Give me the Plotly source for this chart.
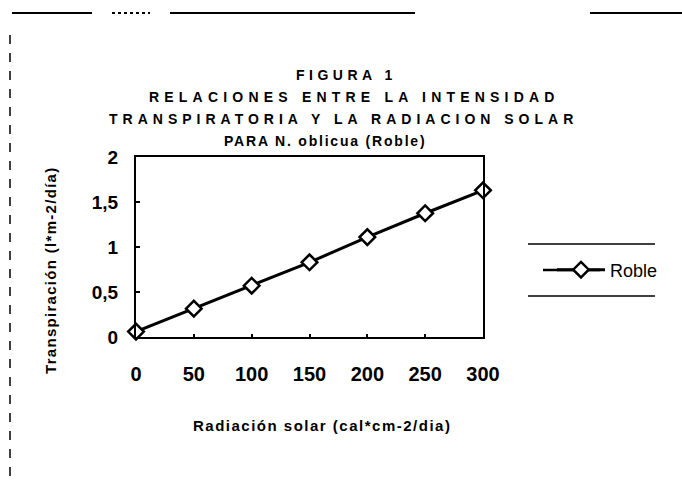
import plotly.graph_objects as go

radiacion = [0, 50, 100, 150, 200, 250, 300]
transpiracion = [0.06, 0.315, 0.57, 0.83, 1.11, 1.375, 1.63]
serie = "Roble"
x_ticks = [0, 50, 100, 150, 200, 250, 300]
y_ticks = [0, 0.5, 1, 1.5, 2]
y_tick_labels = ["0", "0,5", "1", "1,5", "2"]
title_lines = [
    "FIGURA 1",
    "RELACIONES ENTRE LA INTENSIDAD",
    "TRANSPIRATORIA Y LA RADIACION SOLAR",
    "PARA N. oblicua (Roble)",
]
x_title = "Radiación solar (cal*cm-2/dia)"
y_title = "Transpiración (l*m-2/día)"

L, R, T, B = 136, 199, 157, 144
W, H = 682, 481
PW, PH = W - L - R, H - T - B


def px(x):
    return (x - L) / PW


def py(y):
    return (H - B - y) / PH


fig = go.Figure()
fig.add_trace(go.Scatter(
    x=radiacion, y=transpiracion, name=serie, mode="lines+markers",
    line=dict(color="black", width=3),
    marker=dict(symbol="diamond", size=12, color="white",
                line=dict(color="black", width=2.5)),
    cliponaxis=False,
))

font = "Liberation Sans, Arial, sans-serif"
annotations = []
title_y = [75, 97, 119, 141]
title_x = [346, 354, 343, 325]
spacing = [4.5, 5.2, 5.0, 1.8]
for line, xx, yy, sp in zip(title_lines, title_x, title_y, spacing):
    annotations.append(dict(
        text=f'<span style="letter-spacing:{sp}px"><b>{line}</b></span>',
        x=px(xx), y=py(yy), xref="paper", yref="paper",
        showarrow=False, xanchor="center", yanchor="middle",
        font=dict(family=font, size=14, color="black"),
    ))
annotations.append(dict(
    text=f'<span style="letter-spacing:1.5px"><b>{x_title}</b></span>',
    x=px(322), y=py(425), xref="paper", yref="paper",
    showarrow=False, xanchor="center", yanchor="middle",
    font=dict(family=font, size=15, color="black"),
))
annotations.append(dict(
    text=f'<span style="letter-spacing:1.3px"><b>{y_title}</b></span>',
    x=px(50), y=py(270), xref="paper", yref="paper",
    showarrow=False, xanchor="center", yanchor="middle", textangle=-90,
    font=dict(family=font, size=15, color="black"),
))

shapes = []
# legend frame lines
for yy in (244, 296):
    shapes.append(dict(type="line", xref="paper", yref="paper",
                       x0=px(528), x1=px(655), y0=py(yy), y1=py(yy),
                       line=dict(color="black", width=1.5)))
# extended legend sample line
shapes.append(dict(type="line", xref="paper", yref="paper",
                   x0=px(543), x1=px(600), y0=py(270), y1=py(270),
                   line=dict(color="black", width=2.5)))
# page scan edges
for x0, x1, dash in [(12, 92, "solid"), (112, 150, "dot"), (170, 415, "solid"), (590, 682, "solid")]:
    shapes.append(dict(type="line", xref="paper", yref="paper",
                       x0=px(x0), x1=px(x1), y0=py(13), y1=py(13),
                       line=dict(color="black", width=2, dash=dash)))
shapes.append(dict(type="line", xref="paper", yref="paper",
                   x0=px(10), x1=px(10), y0=py(35), y1=py(481),
                   line=dict(color="black", width=1.5, dash="dash")))

fig.update_layout(
    width=W, height=H,
    margin=dict(l=L, r=R, t=T, b=B),
    paper_bgcolor="white", plot_bgcolor="white",
    font=dict(family=font, color="black"),
    showlegend=True,
    legend=dict(x=px(552), y=py(270), xanchor="left", yanchor="middle",
                bgcolor="rgba(0,0,0,0)", borderwidth=0, itemwidth=48,
                font=dict(family=font, size=18, color="black")),
    annotations=annotations,
    shapes=shapes,
)
fig.update_xaxes(
    range=[0, 300], tickvals=x_ticks, ticktext=[f"<b>{v}</b>" for v in x_ticks],
    showgrid=False, zeroline=False, showline=True, linecolor="black", linewidth=2,
    mirror=True, ticks="inside", ticklen=3, tickcolor="black", tickwidth=2,
    tickfont=dict(family=font, size=20, color="black"), ticklabelstandoff=18,
)
fig.update_yaxes(
    range=[0, 2], tickvals=y_ticks, ticktext=[f"<b>{t}</b>" for t in y_tick_labels],
    showgrid=False, zeroline=False, showline=True, linecolor="black", linewidth=2,
    mirror=True, ticks="inside", ticklen=4, tickcolor="black", tickwidth=2,
    tickfont=dict(family=font, size=19, color="black"), ticklabelstandoff=12,
)

fig.write_html("out.html", config={"displayModeBar": False},
               post_script="document.body.style.margin='0';")
